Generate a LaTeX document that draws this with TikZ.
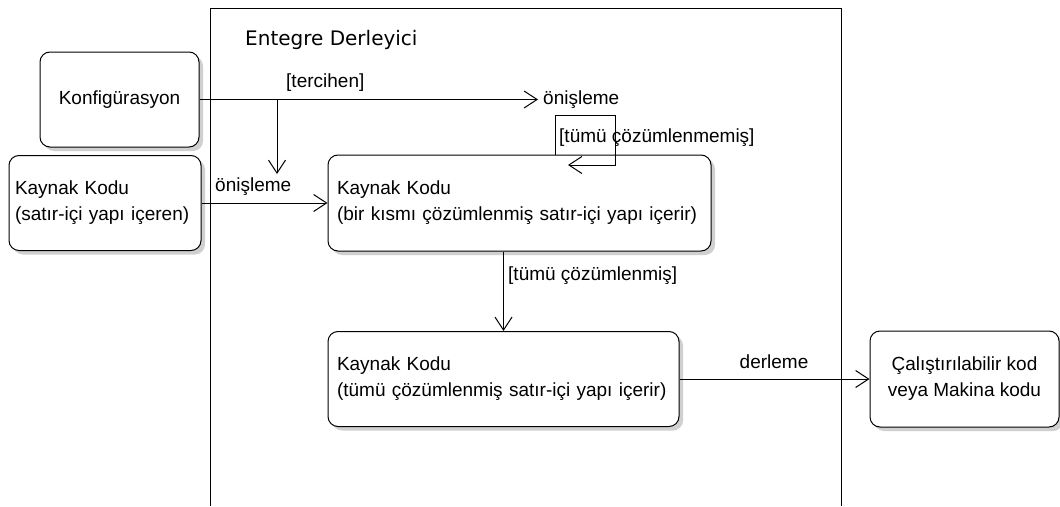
\documentclass[tikz,border=0pt]{standalone}
\usepackage{fontspec}
\setmainfont{Liberation Sans}
\newfontfamily\titlefont{DejaVu Sans}
\usetikzlibrary{arrows.meta, shadows}

\begin{document}
\begin{tikzpicture}[x=1pt, y=-1pt,
    every node/.style={font=\fontsize{19}{26}\selectfont},
    state/.style={draw, line width=1pt, rounded corners=10pt, fill=white, inner sep=0pt,
        drop shadow={shadow xshift=4pt, shadow yshift=-4pt, fill=colShd, opacity=1}},
    flow/.style={line width=1pt, -{Straight Barb[length=13pt, width=17pt, line width=1pt]}},
    lbl/.style={anchor=west, inner sep=0pt}]

% ------------------------
% Colors
% ------------------------
\definecolor{colShd}{RGB}{208,208,208}

\useasboundingbox (0,0) rectangle (1060,506);

% ------------------------
% Frame: Entegre Derleyici
% ------------------------
\draw[line width=1pt] (210,506) -- (210,8) -- (841,8) -- (841,506);
\node[lbl, font=\titlefont\fontsize{20}{24}\selectfont] (title) at (245,40) {Entegre Derleyici};

% ------------------------
% States
% ------------------------
\node[state, minimum width=159pt, minimum height=95pt] (konf) at (119.5,99.5) {Konfigürasyon};
\node[state, minimum width=192pt, minimum height=95pt, text width=180pt, align=left] (src) at (105,203) {Kaynak Kodu\\(satır-içi yapı içeren)};
\node[state, minimum width=383pt, minimum height=96pt, text width=365pt, align=left] (mid) at (519.5,203) {Kaynak Kodu\\(bir kısmı çözümlenmiş satır-içi yapı içerir)};
\node[state, minimum width=351pt, minimum height=95pt, text width=333pt, align=left] (bot) at (503.5,379) {Kaynak Kodu\\(tümü çözümlenmiş satır-içi yapı içerir)};
\node[state, minimum width=189pt, minimum height=96pt, align=center] (exe) at (964.5,379) {Çalıştırılabilir kod\\veya Makina kodu};

% ------------------------
% Labels
% ------------------------
\node[lbl, inner xsep=5pt] (onis1) at (538,99.5) {önişleme};
\node[lbl] (tercihen) at (286,83) {[tercihen]};
\node[lbl] (onis2) at (215,187) {önişleme};
\node[lbl] (tumu1) at (559,138) {[tümü çözümlenmemiş]};
\node[lbl] (tumu2) at (508,276) {[tümü çözümlenmiş]};
\node (derleme) at (774,362) {derleme};

% ------------------------
% Connectors
% ------------------------
\coordinate (split) at (277,99.5);
\coordinate (splitend) at (277,174);
\coordinate (loopa) at (555,115);
\coordinate (loopb) at (615,165);
\coordinate (loopend) at (568,165);

\draw[flow] (konf.east) -- (onis1.west);
\draw[flow] (split) -- (splitend);
\draw[flow] (loopa |- mid.north) -- (loopa) -| (loopb) -- (loopend);
\draw[flow] (src.east) -- (mid.west);
\draw[flow] (bot.north |- mid.south) -- (bot.north);
\draw[flow] (bot.east) -- (exe.west);

\end{tikzpicture}
\end{document}
